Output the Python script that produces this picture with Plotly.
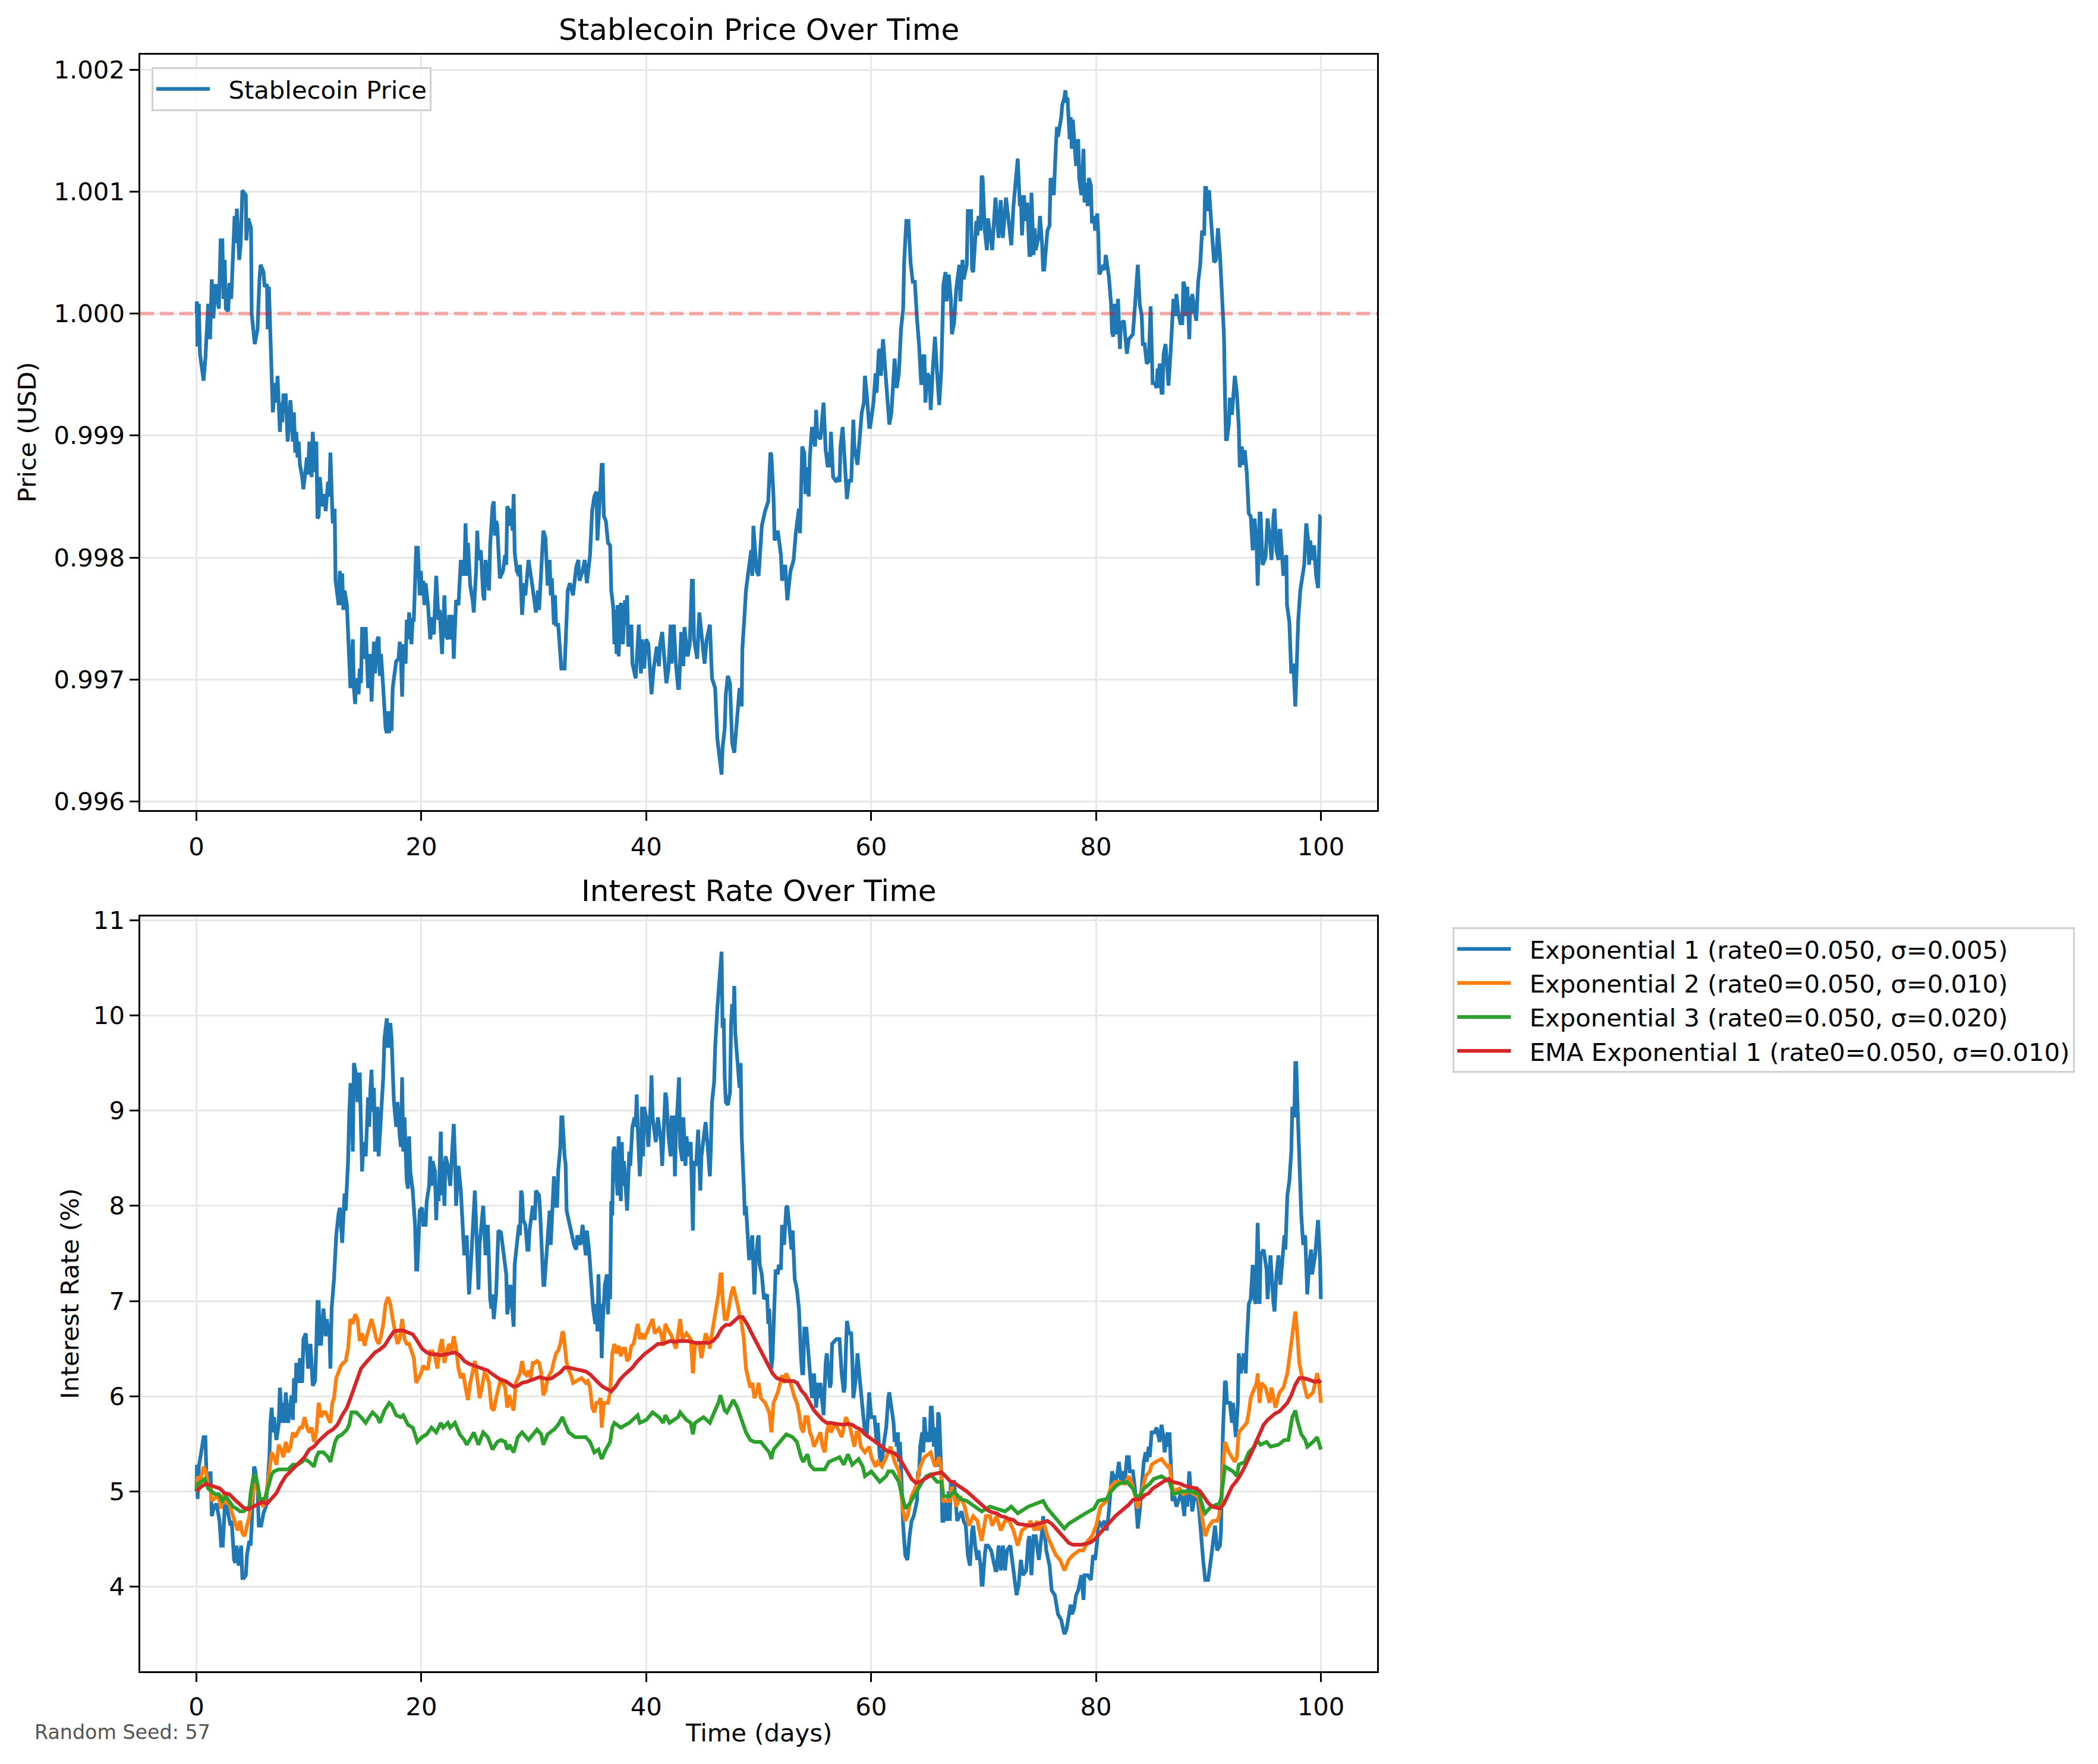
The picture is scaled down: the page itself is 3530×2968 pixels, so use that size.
import plotly.graph_objects as go

# ---------------- data ----------------
PRICE = [
(0.00,1.00000),(0.04,1.00010),(0.08,0.99973),(0.21,1.00008),(0.31,0.99967),(0.52,0.99951),(0.63,0.99945),(0.79,0.99963),
(1.04,1.00008),(1.21,0.99979),(1.36,1.00028),(1.50,0.99996),(1.71,1.00024),(1.99,1.00004),(2.15,1.00060),(2.30,1.00060),
(2.40,1.00012),(2.51,1.00044),(2.61,1.00004),(2.82,1.00002),(2.93,1.00025),(3.09,1.00012),(3.28,1.00056),(3.39,1.00080),
(3.51,1.00058),(3.59,1.00086),(3.80,1.00044),(3.93,1.00056),(4.08,1.00101),(4.39,1.00097),(4.43,1.00060),(4.60,1.00078),
(4.85,1.00070),(4.91,1.00000),(5.18,0.99975),(5.43,0.99987),(5.60,1.00028),(5.71,1.00040),(5.96,1.00034),(6.06,1.00022),
(6.27,1.00024),(6.33,0.99987),(6.44,1.00022),(6.65,0.99967),(6.79,0.99919),(7.00,0.99943),(7.11,0.99927),(7.21,0.99949),
(7.42,0.99903),(7.52,0.99927),(7.63,0.99911),(7.73,0.99933),(7.94,0.99933),(8.11,0.99895),(8.36,0.99929),(8.57,0.99895),
(8.67,0.99919),(8.78,0.99886),(8.88,0.99903),(8.99,0.99882),(9.09,0.99895),(9.20,0.99876),(9.40,0.99866),(9.51,0.99856),
(9.66,0.99866),(9.82,0.99882),(9.93,0.99868),(10.03,0.99895),(10.24,0.99866),(10.34,0.99903),(10.55,0.99870),(10.66,0.99895),
(10.76,0.99832),(10.87,0.99834),(10.97,0.99866),(11.18,0.99842),(11.39,0.99852),(11.49,0.99838),(11.70,0.99862),(11.81,0.99850),
(11.91,0.99886),(12.02,0.99838),(12.12,0.99828),(12.29,0.99840),(12.37,0.99781),(12.64,0.99761),(12.75,0.99789),(12.85,0.99761),
(12.96,0.99787),(13.06,0.99757),(13.17,0.99773),(13.38,0.99761),(13.48,0.99733),(13.69,0.99693),(13.79,0.99701),(13.90,0.99733),
(14.00,0.99693),(14.11,0.99680),(14.21,0.99701),(14.42,0.99688),(14.52,0.99709),(14.63,0.99697),(14.73,0.99743),(14.94,0.99717),
(15.05,0.99743),(15.15,0.99717),(15.26,0.99693),(15.47,0.99721),(15.57,0.99682),(15.78,0.99731),(15.88,0.99705),(16.09,0.99733),
(16.20,0.99735),(16.30,0.99703),(16.41,0.99721),(16.61,0.99693),(16.82,0.99660),(16.93,0.99656),(17.03,0.99674),(17.14,0.99656),
(17.24,0.99674),(17.35,0.99658),(17.45,0.99693),(17.76,0.99715),(17.97,0.99717),(18.08,0.99731),(18.18,0.99717),(18.29,0.99686),
(18.39,0.99729),(18.60,0.99713),(18.70,0.99749),(18.81,0.99733),(18.91,0.99755),(19.12,0.99729),(19.23,0.99749),(19.33,0.99749),
(19.44,0.99787),(19.54,0.99808),(19.69,0.99808),(19.85,0.99769),(19.96,0.99789),(20.06,0.99769),(20.17,0.99781),(20.27,0.99761),
(20.38,0.99779),(20.59,0.99761),(20.79,0.99733),(21.00,0.99751),(21.11,0.99737),(21.32,0.99785),(21.52,0.99749),(21.63,0.99757),
(21.84,0.99721),(22.05,0.99769),(22.15,0.99737),(22.36,0.99733),(22.47,0.99753),(22.67,0.99733),(22.78,0.99753),(22.88,0.99717),
(23.09,0.99765),(23.30,0.99761),(23.51,0.99798),(23.62,0.99785),(23.72,0.99798),(23.82,0.99785),(23.93,0.99828),(24.03,0.99785),
(24.14,0.99812),(24.35,0.99777),(24.56,0.99765),(24.66,0.99755),(24.87,0.99789),(24.97,0.99822),(25.08,0.99798),(25.29,0.99806),
(25.50,0.99769),(25.60,0.99765),(25.71,0.99798),(26.02,0.99773),(26.12,0.99810),(26.33,0.99842),(26.44,0.99846),(26.54,0.99818),
(26.65,0.99830),(26.75,0.99826),(26.98,0.99783),(27.26,0.99789),(27.45,0.99802),(27.55,0.99794),(27.64,0.99842),(27.83,0.99838),
(27.92,0.99826),(28.02,0.99840),(28.11,0.99822),(28.21,0.99852),(28.30,0.99804),(28.49,0.99789),(28.68,0.99785),(28.77,0.99794),
(28.96,0.99753),(29.15,0.99779),(29.25,0.99769),(29.53,0.99798),(29.81,0.99781),(30.00,0.99765),(30.19,0.99755),(30.38,0.99773),
(30.47,0.99757),(30.66,0.99789),(30.85,0.99822),(31.04,0.99816),(31.23,0.99777),(31.41,0.99798),(31.51,0.99769),(31.60,0.99783),
(31.79,0.99745),(31.89,0.99769),(31.98,0.99745),(32.17,0.99745),(32.45,0.99709),(32.74,0.99709),(32.92,0.99741),(33.02,0.99773),
(33.21,0.99779),(33.49,0.99769),(33.77,0.99792),(33.96,0.99798),(34.06,0.99781),(34.34,0.99789),(34.53,0.99798),(34.72,0.99779),
(35.00,0.99802),(35.19,0.99838),(35.38,0.99850),(35.57,0.99854),(35.66,0.99814),(35.85,0.99840),(36.04,0.99876),(36.13,0.99876),
(36.23,0.99834),(36.41,0.99830),(36.60,0.99812),(36.79,0.99810),(36.89,0.99773),(37.07,0.99759),(37.17,0.99729),(37.26,0.99757),
(37.36,0.99721),(37.45,0.99761),(37.55,0.99719),(37.74,0.99763),(37.92,0.99729),(38.11,0.99765),(38.21,0.99745),(38.30,0.99769),
(38.40,0.99727),(38.68,0.99745),(38.77,0.99713),(39.06,0.99701),(39.24,0.99733),(39.34,0.99745),(39.53,0.99705),(39.62,0.99733),
(39.81,0.99709),(40.00,0.99733),(40.19,0.99729),(40.47,0.99688),(40.66,0.99709),(40.94,0.99727),(41.13,0.99711),(41.23,0.99729),
(41.42,0.99739),(41.60,0.99713),(41.79,0.99697),(41.98,0.99709),(42.17,0.99745),(42.26,0.99713),(42.45,0.99745),(42.64,0.99713),
(42.83,0.99693),(42.92,0.99693),(43.02,0.99733),(43.11,0.99739),(43.30,0.99711),(43.40,0.99743),(43.68,0.99719),(43.87,0.99729),
(44.06,0.99781),(44.15,0.99781),(44.25,0.99733),(44.53,0.99717),(44.72,0.99755),(44.91,0.99737),(45.19,0.99713),(45.38,0.99733),
(45.66,0.99745),(45.85,0.99701),(46.13,0.99693),(46.32,0.99652),(46.51,0.99636),(46.70,0.99622),(46.79,0.99644),(46.98,0.99660),
(47.08,0.99688),(47.26,0.99703),(47.45,0.99697),(47.64,0.99648),(47.83,0.99640),(48.02,0.99660),(48.30,0.99693),(48.49,0.99678),
(48.55,0.99725),(48.77,0.99757),(48.87,0.99773),(49.06,0.99787),(49.34,0.99806),(49.43,0.99785),(49.53,0.99826),(49.81,0.99789),
(50.00,0.99785),(50.28,0.99826),(50.57,0.99838),(50.85,0.99846),(51.04,0.99886),(51.13,0.99884),(51.32,0.99850),(51.42,0.99814),
(51.70,0.99822),(51.98,0.99802),(52.08,0.99781),(52.36,0.99794),(52.55,0.99765),(52.83,0.99789),(53.11,0.99798),(53.30,0.99820),
(53.58,0.99840),(53.68,0.99820),(53.87,0.99891),(54.06,0.99886),(54.16,0.99852),(54.34,0.99874),(54.45,0.99850),(54.55,0.99882),
(54.74,0.99907),(55.02,0.99891),(55.11,0.99921),(55.21,0.99901),(55.49,0.99897),(55.77,0.99927),(55.96,0.99888),(56.15,0.99874),
(56.25,0.99886),(56.34,0.99874),(56.43,0.99903),(56.62,0.99866),(56.91,0.99862),(57.10,0.99866),(57.19,0.99862),(57.28,0.99891),
(57.47,0.99907),(57.66,0.99878),(57.85,0.99848),(58.04,0.99864),(58.23,0.99862),(58.42,0.99913),(58.51,0.99891),(58.79,0.99876),
(58.98,0.99895),(59.17,0.99919),(59.36,0.99927),(59.45,0.99949),(59.64,0.99931),(59.83,0.99907),(59.92,0.99907),(60.21,0.99927),
(60.40,0.99951),(60.49,0.99935),(60.68,0.99969),(60.77,0.99971),(60.87,0.99949),(61.06,0.99979),(61.25,0.99955),(61.43,0.99935),
(61.62,0.99909),(61.81,0.99919),(62.09,0.99963),(62.28,0.99939),(62.47,0.99951),(62.66,0.99987),(62.85,1.00004),(62.94,1.00042),
(63.13,1.00076),(63.32,1.00076),(63.51,1.00042),(63.70,1.00026),(63.89,1.00026),(64.08,0.99996),(64.26,0.99975),(64.45,0.99943),
(64.55,0.99943),(64.64,0.99965),(64.74,0.99965),(64.83,0.99927),(65.02,0.99951),(65.21,0.99947),(65.30,0.99921),(65.49,0.99955),
(65.68,0.99981),(65.87,0.99951),(66.06,0.99925),(66.25,0.99955),(66.43,1.00024),(66.62,1.00034),(66.72,1.00010),(66.91,1.00032),
(67.09,1.00012),(67.19,0.99983),(67.38,0.99992),(67.57,1.00020),(67.85,1.00040),(67.94,1.00010),(68.13,1.00044),(68.23,1.00028),
(68.51,1.00040),(68.60,1.00084),(68.89,1.00084),(68.98,1.00036),(69.08,1.00034),(69.36,1.00076),(69.45,1.00064),(69.55,1.00080),
(69.74,1.00068),(69.83,1.00113),(69.92,1.00111),(70.11,1.00068),(70.30,1.00052),(70.40,1.00078),(70.68,1.00056),(70.77,1.00052),
(71.06,1.00095),(71.25,1.00064),(71.34,1.00062),(71.53,1.00093),(71.72,1.00062),(72.00,1.00095),(72.19,1.00078),(72.47,1.00056),
(72.66,1.00088),(72.85,1.00109),(73.04,1.00127),(73.23,1.00088),(73.32,1.00097),(73.42,1.00064),(73.60,1.00097),(73.70,1.00076),
(73.89,1.00091),(74.08,1.00048),(74.17,1.00048),(74.26,1.00099),(74.45,1.00048),(74.55,1.00070),(74.64,1.00052),(74.92,1.00064),
(75.02,1.00080),(75.21,1.00056),(75.30,1.00036),(75.40,1.00036),(75.68,1.00068),(75.87,1.00072),(75.96,1.00111),(76.15,1.00105),
(76.25,1.00097),(76.43,1.00137),(76.53,1.00153),(76.62,1.00145),(76.91,1.00161),(77.00,1.00171),(77.19,1.00177),(77.28,1.00183),
(77.38,1.00173),(77.47,1.00177),(77.57,1.00153),(77.66,1.00143),(77.75,1.00161),(77.85,1.00135),(77.94,1.00159),(78.04,1.00143),
(78.23,1.00121),(78.42,1.00143),(78.51,1.00111),(78.70,1.00097),(78.89,1.00135),(78.98,1.00091),(79.17,1.00107),(79.26,1.00088),
(79.36,1.00111),(79.55,1.00105),(79.64,1.00074),(79.83,1.00080),(79.92,1.00068),(80.11,1.00082),(80.21,1.00064),(80.30,1.00032),
(80.58,1.00038),(80.77,1.00036),(80.87,1.00048),(81.15,1.00030),(81.34,1.00008),(81.43,0.99985),(81.53,0.99981),(81.62,1.00008),
(81.69,1.00002),(81.78,0.99983),(81.96,1.00012),(82.13,0.99971),(82.22,0.99992),(82.48,0.99994),(82.75,0.99967),(82.92,0.99979),
(83.10,0.99981),(83.28,0.99983),(83.45,1.00004),(83.72,1.00040),(83.89,1.00008),(84.07,0.99998),(84.16,0.99975),(84.33,0.99975),
(84.51,0.99959),(84.69,0.99961),(84.86,1.00006),(85.04,0.99943),(85.22,0.99943),(85.39,0.99939),(85.48,0.99955),(85.57,0.99939),
(85.66,0.99959),(85.83,0.99935),(85.92,0.99935),(86.01,0.99967),(86.19,0.99975),(86.36,0.99955),(86.45,0.99941),(86.63,0.99967),
(86.80,1.00000),(86.89,1.00012),(87.07,0.99998),(87.15,1.00016),(87.33,1.00000),(87.51,0.99992),(87.68,0.99992),(87.77,1.00026),
(87.86,1.00024),(87.95,0.99998),(88.12,1.00022),(88.30,0.99979),(88.39,1.00014),(88.48,1.00000),(88.56,1.00016),(88.83,1.00002),
(88.92,0.99994),(89.09,1.00026),(89.27,1.00040),(89.44,1.00068),(89.62,1.00064),(89.71,1.00103),(89.80,1.00103),(89.97,1.00084),
(90.06,1.00101),(90.24,1.00076),(90.41,1.00056),(90.50,1.00042),(90.68,1.00044),(90.85,1.00070),(91.03,1.00048),(91.12,1.00032),
(91.21,1.00004),(91.38,0.99983),(91.47,0.99935),(91.56,0.99897),(91.65,0.99897),(91.82,0.99909),(91.91,0.99931),(92.09,0.99917),
(92.35,0.99949),(92.53,0.99935),(92.70,0.99907),(92.79,0.99874),(92.97,0.99891),(93.14,0.99876),(93.23,0.99888),(93.41,0.99870),
(93.59,0.99836),(93.76,0.99834),(93.94,0.99806),(94.11,0.99832),(94.29,0.99808),(94.38,0.99777),(94.47,0.99802),(94.55,0.99836),
(94.64,0.99836),(94.82,0.99794),(95.08,0.99800),(95.26,0.99832),(95.44,0.99818),(95.61,0.99798),(95.79,0.99834),(95.88,0.99840),
(96.05,0.99806),(96.23,0.99798),(96.32,0.99822),(96.40,0.99822),(96.67,0.99785),(96.93,0.99802),(96.99,0.99761),(97.20,0.99747),
(97.37,0.99705),(97.55,0.99713),(97.73,0.99678),(97.81,0.99709),(97.99,0.99749),(98.17,0.99773),(98.34,0.99783),(98.52,0.99794),
(98.70,0.99828),(98.87,0.99814),(98.96,0.99794),(99.05,0.99814),(99.22,0.99798),(99.40,0.99810),(99.58,0.99785),(99.75,0.99775),
(99.93,0.99834),(100.00,0.99834),
]

RATE_EXP1 = [
(0.00,5.00),(0.04,5.28),(0.10,4.92),(0.21,5.26),(0.42,5.41),(0.63,5.57),(0.79,5.57),(0.88,5.21),(1.15,5.03),(1.25,5.21),
(1.36,4.74),(1.57,4.84),(1.78,4.87),(2.05,4.69),(2.19,4.43),(2.34,4.43),(2.55,4.92),(2.82,4.77),(3.03,4.64),(3.13,4.69),
(3.34,4.28),(3.45,4.25),(3.55,4.43),(3.76,4.22),(3.97,4.43),(4.08,4.09),(4.22,4.09),(4.39,4.12),(4.49,4.33),(4.70,4.48),
(4.81,4.43),(4.91,4.64),(5.02,5.00),(5.12,5.26),(5.22,5.23),(5.43,5.03),(5.54,4.64),(5.75,4.64),(5.96,4.77),(6.17,4.84),
(6.37,5.16),(6.48,5.36),(6.58,5.72),(6.69,5.88),(6.79,5.62),(6.90,5.78),(7.11,5.54),(7.31,5.70),(7.42,6.09),(7.63,5.72),
(7.73,5.93),(7.84,5.72),(7.94,6.04),(8.15,5.72),(8.46,6.01),(8.57,5.75),(8.67,6.19),(8.78,5.93),(8.88,6.35),(9.09,6.14),
(9.20,6.40),(9.40,6.14),(9.51,6.60),(9.72,6.66),(9.93,6.29),(10.14,6.55),(10.34,6.11),(10.55,6.16),(10.66,6.55),(10.76,6.99),
(10.87,6.99),(10.97,6.55),(11.08,6.55),(11.29,6.92),(11.49,6.63),(11.60,6.81),(11.70,6.68),(11.81,6.76),(11.91,6.29),(12.02,6.92),
(12.23,7.23),(12.43,7.69),(12.64,7.92),(12.75,7.98),(12.96,7.61),(13.17,8.13),(13.27,7.95),(13.48,8.47),(13.58,8.93),(13.69,9.27),
(13.79,9.27),(13.90,8.57),(14.00,9.50),(14.21,9.37),(14.32,9.09),(14.52,9.40),(14.63,8.83),(14.73,8.36),(14.84,8.67),(15.05,8.52),
(15.26,9.14),(15.36,8.83),(15.47,9.22),(15.57,9.43),(15.67,8.99),(15.78,9.24),(15.88,8.57),(16.09,9.04),(16.20,8.52),(16.41,8.93),
(16.61,9.35),(16.72,9.76),(16.93,9.97),(17.03,9.66),(17.24,9.92),(17.35,9.76),(17.45,9.27),(17.55,9.11),(17.76,8.83),(17.87,9.09),
(18.08,8.73),(18.18,8.62),(18.29,9.35),(18.39,8.57),(18.50,8.93),(18.70,8.26),(18.81,8.18),(18.91,8.73),(19.02,8.36),(19.23,8.16),
(19.44,7.80),(19.54,7.33),(19.64,7.33),(19.85,7.95),(20.06,7.98),(20.17,7.80),(20.38,7.80),(20.48,8.05),(20.69,8.21),(20.79,8.52),
(20.90,8.21),(21.00,8.47),(21.21,8.36),(21.32,7.85),(21.42,8.21),(21.53,8.05),(21.73,8.78),(21.84,8.11),(21.94,8.47),(22.05,8.00),
(22.15,8.52),(22.36,8.42),(22.57,8.21),(22.78,8.73),(22.88,8.86),(22.99,8.52),(23.09,8.00),(23.30,8.42),(23.51,8.16),(23.72,7.69),
(23.82,7.48),(24.03,7.69),(24.24,7.07),(24.45,7.48),(24.66,8.00),(24.76,8.16),(24.97,7.48),(25.08,7.12),(25.18,7.59),(25.39,7.95),
(25.50,8.00),(25.71,7.48),(25.91,7.80),(26.12,7.02),(26.23,6.92),(26.33,7.07),(26.44,6.81),(26.65,7.07),(26.85,7.74),(27.08,7.72),
(27.26,7.54),(27.45,7.38),(27.55,7.28),(27.64,6.86),(27.83,7.02),(27.92,7.17),(28.11,6.92),(28.21,6.73),(28.30,7.38),(28.49,7.59),
(28.68,7.80),(28.77,7.69),(28.87,8.16),(28.96,8.11),(29.06,7.85),(29.25,7.80),(29.43,7.54),(29.53,7.54),(29.62,7.74),(29.91,8.00),
(30.09,7.85),(30.19,8.16),(30.47,8.11),(30.57,7.92),(30.75,7.54),(30.85,7.17),(30.94,7.17),(31.13,7.54),(31.32,7.82),(31.41,7.95),
(31.51,7.59),(31.70,8.00),(31.79,8.31),(31.89,8.00),(32.07,8.00),(32.17,8.36),(32.36,8.62),(32.45,8.93),(32.55,8.93),(32.74,8.52),
(32.83,8.44),(32.92,7.95),(33.21,7.80),(33.58,7.59),(33.77,7.54),(33.87,7.69),(34.15,7.59),(34.34,7.80),(34.62,7.48),(34.72,7.74),
(34.91,7.54),(35.09,7.17),(35.19,7.02),(35.28,6.92),(35.47,6.76),(35.57,6.97),(35.66,6.68),(35.75,7.28),(35.85,6.81),(35.94,6.97),
(36.04,6.40),(36.13,6.76),(36.32,7.17),(36.51,7.28),(36.60,6.86),(36.70,7.28),(36.79,7.02),(36.89,8.05),(36.98,7.90),(37.07,8.57),
(37.17,8.62),(37.36,8.21),(37.45,8.11),(37.55,8.73),(37.74,8.05),(37.83,8.67),(37.92,8.21),(38.02,8.47),(38.30,7.95),(38.49,8.57),
(38.58,8.42),(38.77,8.83),(38.96,8.93),(39.06,8.83),(39.15,9.17),(39.24,8.83),(39.43,8.31),(39.53,8.52),(39.62,9.04),(39.72,8.52),
(39.81,9.04),(40.00,8.93),(40.19,8.62),(40.38,9.04),(40.47,9.37),(40.57,8.93),(40.85,8.67),(41.04,8.93),(41.32,8.67),(41.42,8.42),
(41.60,8.83),(41.70,9.19),(41.79,9.14),(41.98,8.73),(42.17,8.52),(42.26,8.93),(42.45,8.93),(42.55,8.31),(42.64,8.73),(42.83,9.14),
(42.92,9.35),(43.02,8.62),(43.21,8.47),(43.30,8.93),(43.49,8.42),(43.58,8.73),(43.77,8.52),(43.96,8.67),(44.06,8.21),(44.15,7.74),
(44.25,8.47),(44.43,8.42),(44.62,8.80),(44.81,8.16),(44.91,8.52),(45.19,8.83),(45.28,8.88),(45.47,8.62),(45.66,8.31),(45.75,8.62),
(45.85,9.09),(46.04,9.30),(46.13,9.66),(46.32,10.07),(46.51,10.33),(46.60,10.54),(46.70,10.67),(46.79,9.87),(46.89,9.97),(46.98,9.35),
(47.08,9.09),(47.26,9.06),(47.45,9.19),(47.55,9.92),(47.64,10.12),(47.74,9.92),(47.83,10.31),(47.92,9.81),(48.11,9.55),(48.30,9.24),
(48.40,9.50),(48.49,8.73),(48.68,8.21),(48.77,7.90),(48.87,8.00),(49.06,7.64),(49.15,7.43),(49.34,7.59),(49.43,7.69),(49.62,7.07),
(49.72,7.38),(49.91,7.64),(50.00,7.69),(50.09,7.38),(50.28,7.28),(50.47,7.02),(50.75,7.07),(50.85,6.76),(50.94,6.92),(51.04,6.60),
(51.13,6.29),(51.23,6.40),(51.32,6.76),(51.51,7.33),(51.70,7.28),(51.79,7.38),(51.98,7.33),(52.08,7.80),(52.26,7.59),(52.45,7.98),
(52.55,8.00),(52.74,7.74),(52.92,7.54),(53.02,7.74),(53.21,7.23),(53.40,7.12),(53.58,6.92),(53.77,6.40),(53.87,6.24),(53.96,6.24),
(54.06,6.71),(54.25,6.71),(54.36,6.55),(54.55,6.29),(54.74,5.98),(54.92,6.24),(55.11,5.88),(55.30,6.14),(55.40,5.98),(55.49,6.14),
(55.68,5.83),(55.77,5.80),(55.96,6.35),(56.06,6.45),(56.34,6.09),(56.43,6.14),(56.53,6.55),(56.91,6.60),(57.19,6.60),(57.38,6.24),
(57.57,6.04),(57.66,6.09),(57.76,6.50),(57.85,6.79),(58.04,6.66),(58.23,6.66),(58.32,6.40),(58.42,5.98),(58.60,6.14),(58.79,6.45),
(58.98,6.19),(59.17,5.93),(59.36,5.78),(59.45,5.62),(59.64,5.62),(59.83,6.04),(60.02,5.78),(60.30,5.78),(60.49,5.52),(60.58,5.72),
(60.77,5.36),(60.96,5.31),(61.15,5.52),(61.34,5.67),(61.53,5.98),(61.62,6.04),(61.81,5.88),(62.00,5.72),(62.09,5.52),(62.19,5.62),
(62.28,5.47),(62.38,5.62),(62.47,5.31),(62.57,5.52),(62.66,5.26),(62.85,4.64),(63.04,4.33),(63.23,4.28),(63.42,4.53),(63.60,4.69),
(63.79,4.74),(63.98,4.84),(64.08,4.90),(64.17,5.21),(64.26,5.16),(64.36,5.47),(64.55,5.62),(64.64,5.41),(64.74,5.78),(64.92,5.52),
(65.02,5.62),(65.21,5.52),(65.30,5.88),(65.40,5.88),(65.58,5.47),(65.68,5.67),(65.87,5.26),(65.96,5.83),(66.06,5.78),(66.25,5.16),
(66.34,4.69),(66.43,4.69),(66.53,4.90),(66.72,4.69),(66.91,5.00),(67.00,4.69),(67.09,5.10),(67.38,5.10),(67.66,4.69),(67.85,4.74),
(68.04,4.79),(68.23,4.69),(68.42,4.64),(68.60,4.33),(68.79,4.22),(68.98,4.59),(69.08,4.64),(69.26,4.43),(69.45,4.28),(69.55,4.38),
(69.74,4.22),(69.83,4.02),(69.92,4.02),(70.11,4.33),(70.21,4.43),(70.40,4.43),(70.68,4.38),(71.06,4.17),(71.15,4.17),(71.34,4.43),
(71.53,4.17),(71.72,4.43),(71.91,4.17),(72.09,4.38),(72.38,4.43),(72.66,4.17),(72.85,3.96),(72.94,3.91),(73.13,4.02),(73.32,4.28),
(73.51,4.12),(73.79,4.17),(73.98,4.48),(74.08,4.53),(74.26,4.12),(74.45,4.53),(74.64,4.53),(74.92,4.28),(75.21,4.59),(75.30,4.74),
(75.58,4.38),(75.87,4.22),(76.06,3.96),(76.34,3.91),(76.62,3.71),(76.91,3.65),(77.09,3.55),(77.19,3.50),(77.38,3.55),(77.57,3.71),
(77.75,3.81),(77.85,3.71),(78.04,3.76),(78.23,3.91),(78.42,3.96),(78.70,4.12),(78.89,3.86),(78.98,4.12),(79.26,4.12),(79.55,4.07),
(79.74,4.33),(79.92,4.28),(80.11,4.48),(80.21,4.69),(80.49,4.64),(80.77,4.69),(80.96,4.59),(81.15,4.79),(81.34,5.16),(81.43,5.21),
(81.72,5.10),(81.87,5.16),(82.04,5.31),(82.22,5.10),(82.48,5.21),(82.57,5.10),(82.75,5.36),(82.92,5.36),(83.01,5.21),(83.28,5.21),
(83.45,5.05),(83.72,4.61),(83.89,4.79),(84.07,5.10),(84.25,5.31),(84.42,5.41),(84.51,5.31),(84.69,5.47),(84.78,5.36),(84.95,5.62),
(85.22,5.62),(85.39,5.67),(85.66,5.52),(85.83,5.70),(86.01,5.57),(86.10,5.41),(86.36,5.62),(86.45,5.47),(86.54,5.62),(86.63,5.36),
(86.80,4.90),(86.98,4.95),(87.15,4.84),(87.33,4.90),(87.59,5.00),(87.86,4.74),(87.95,5.00),(88.12,4.84),(88.30,5.21),(88.56,4.79),
(88.83,5.00),(88.92,5.05),(89.18,4.79),(89.36,4.48),(89.53,4.28),(89.71,4.07),(89.97,4.07),(90.15,4.22),(90.33,4.38),(90.59,4.64),
(90.77,4.38),(91.03,4.43),(91.12,4.59),(91.21,5.16),(91.29,5.62),(91.47,6.16),(91.56,6.14),(91.65,5.93),(91.91,5.93),(92.09,5.72),
(92.18,5.93),(92.44,5.57),(92.62,5.93),(92.70,6.45),(92.88,6.24),(93.14,6.45),(93.32,6.24),(93.41,6.55),(93.59,6.97),(93.76,7.02),
(93.94,7.38),(94.11,7.02),(94.20,6.97),(94.38,7.82),(94.55,6.97),(94.64,7.48),(94.91,7.54),(95.17,7.33),(95.26,7.02),(95.44,7.33),
(95.52,7.48),(95.79,6.97),(95.88,6.89),(96.05,7.28),(96.23,7.48),(96.40,7.17),(96.58,7.48),(96.76,7.69),(96.85,7.54),(97.02,8.11),
(97.20,8.26),(97.37,8.57),(97.46,9.04),(97.64,8.93),(97.73,9.50),(97.81,9.50),(97.90,9.14),(98.08,8.42),(98.26,7.90),(98.43,7.59),
(98.61,7.69),(98.79,7.07),(98.96,7.38),(99.14,7.54),(99.22,7.28),(99.49,7.48),(99.67,7.85),(99.75,7.85),(99.93,7.43),(100.00,7.02),
]

RATE_EXP2 = [
(0.00,5.00),(0.10,5.16),(0.21,5.05),(0.42,5.16),(0.63,5.26),(0.84,5.21),(1.04,5.05),(1.25,5.03),(1.36,4.90),(1.57,4.92),
(1.78,4.95),(1.99,4.92),(2.19,4.82),(2.40,4.97),(2.61,4.87),(2.82,4.90),(3.03,4.82),(3.24,4.72),(3.45,4.64),(3.66,4.59),
(3.87,4.69),(4.08,4.56),(4.28,4.53),(4.49,4.64),(4.70,4.74),(4.91,4.90),(5.12,5.08),(5.33,5.05),(5.54,4.95),(5.75,4.87),
(5.96,4.84),(6.17,4.95),(6.37,5.10),(6.58,5.36),(6.69,5.41),(6.90,5.36),(7.11,5.28),(7.31,5.49),(7.52,5.44),(7.73,5.36),
(7.94,5.52),(8.15,5.41),(8.36,5.47),(8.57,5.62),(8.78,5.57),(8.99,5.62),(9.20,5.67),(9.40,5.67),(9.61,5.78),(9.82,5.67),
(10.03,5.62),(10.24,5.67),(10.45,5.52),(10.66,5.62),(10.87,5.93),(11.08,5.78),(11.29,5.83),(11.49,5.83),(11.70,5.78),(11.91,5.72),
(12.08,5.93),(12.23,5.98),(12.43,6.19),(12.64,6.27),(12.85,6.32),(13.06,6.35),(13.27,6.37),(13.48,6.50),(13.69,6.81),(13.90,6.76),
(14.11,6.86),(14.32,6.81),(14.52,6.58),(14.73,6.66),(14.94,6.53),(15.15,6.63),(15.36,6.71),(15.57,6.81),(15.78,6.71),(15.99,6.60),
(16.20,6.55),(16.41,6.63),(16.61,6.76),(16.82,6.97),(17.03,7.04),(17.24,6.97),(17.45,6.81),(17.66,6.66),(17.87,6.55),(18.08,6.60),
(18.29,6.81),(18.50,6.60),(18.70,6.55),(18.91,6.55),(19.12,6.47),(19.33,6.40),(19.54,6.14),(19.75,6.19),(19.96,6.24),(20.17,6.32),
(20.38,6.29),(20.59,6.29),(20.79,6.47),(21.00,6.47),(21.21,6.42),(21.42,6.29),(21.63,6.50),(21.84,6.60),(22.05,6.35),(22.26,6.47),
(22.47,6.55),(22.67,6.47),(22.88,6.63),(23.09,6.50),(23.30,6.29),(23.51,6.19),(23.72,6.24),(23.93,6.09),(24.14,5.96),(24.35,6.14),
(24.56,6.24),(24.76,6.37),(24.97,6.19),(25.18,5.98),(25.39,6.09),(25.60,6.24),(25.81,6.22),(26.02,6.14),(26.23,5.88),(26.44,5.85),
(26.65,5.98),(26.85,6.09),(27.08,6.19),(27.26,6.14),(27.45,6.09),(27.64,5.88),(27.83,6.01),(28.02,5.91),(28.21,5.85),(28.40,6.14),
(28.58,6.19),(28.77,6.24),(28.96,6.37),(29.15,6.24),(29.34,6.22),(29.53,6.27),(29.72,6.19),(29.91,6.35),(30.09,6.35),(30.28,6.37),
(30.47,6.35),(30.66,6.24),(30.85,6.01),(31.04,6.06),(31.23,6.19),(31.41,6.24),(31.60,6.27),(31.79,6.37),(31.98,6.45),(32.17,6.48),
(32.36,6.55),(32.55,6.68),(32.64,6.66),(32.83,6.45),(32.92,6.35),(33.11,6.27),(33.30,6.22),(33.49,6.14),(33.87,6.16),(34.25,6.19),
(34.62,6.14),(34.81,6.16),(35.00,6.09),(35.19,5.88),(35.38,5.83),(35.57,5.93),(35.75,5.93),(35.94,5.98),(36.04,5.67),(36.23,5.93),
(36.60,5.93),(36.79,6.04),(36.98,6.45),(37.17,6.55),(37.36,6.45),(37.55,6.53),(37.74,6.42),(37.92,6.50),(38.11,6.50),(38.30,6.37),
(38.49,6.40),(38.68,6.53),(38.87,6.55),(39.06,6.66),(39.24,6.76),(39.43,6.60),(39.62,6.66),(39.81,6.60),(40.00,6.66),(40.38,6.76),
(40.57,6.81),(40.75,6.66),(41.13,6.71),(41.32,6.66),(41.51,6.53),(41.70,6.76),(41.89,6.71),(42.26,6.63),(42.64,6.50),(42.83,6.66),
(43.02,6.81),(43.21,6.60),(43.58,6.66),(43.96,6.60),(44.15,6.24),(44.34,6.55),(44.72,6.55),(44.91,6.40),(45.09,6.55),(45.28,6.66),
(45.47,6.60),(45.66,6.50),(45.85,6.66),(46.04,6.81),(46.23,6.92),(46.42,7.07),(46.60,7.28),(46.70,7.28),(46.79,7.02),(46.98,6.81),
(47.17,6.81),(47.36,6.97),(47.55,7.07),(47.74,7.15),(47.92,7.07),(48.11,6.97),(48.30,6.86),(48.49,6.76),(48.68,6.60),(48.87,6.29),
(49.06,6.19),(49.25,6.09),(49.43,6.14),(49.62,5.98),(49.81,6.04),(50.00,6.14),(50.19,5.98),(50.57,5.93),(50.94,5.83),(51.13,5.62),
(51.32,5.93),(51.70,6.04),(52.08,6.22),(52.26,6.14),(52.45,6.24),(52.83,6.14),(53.21,5.98),(53.40,5.93),(53.58,5.83),(53.77,5.67),
(53.96,5.62),(54.15,5.78),(54.36,5.78),(54.55,5.62),(54.74,5.57),(54.92,5.47),(55.11,5.52),(55.49,5.62),(55.68,5.47),(55.87,5.41),
(56.06,5.62),(56.25,5.72),(56.43,5.62),(56.81,5.72),(57.19,5.62),(57.38,5.57),(57.76,5.78),(58.13,5.67),(58.51,5.47),(58.70,5.62),
(58.89,5.62),(59.08,5.47),(59.45,5.41),(59.83,5.47),(60.02,5.36),(60.40,5.26),(60.58,5.31),(60.96,5.26),(61.34,5.36),(61.72,5.47),
(62.09,5.31),(62.47,5.21),(62.66,5.00),(62.85,4.79),(63.04,4.69),(63.23,4.74),(63.60,4.95),(63.98,5.05),(64.36,5.26),(64.74,5.36),
(65.30,5.41),(65.68,5.26),(66.06,5.36),(66.25,5.21),(66.43,4.90),(67.00,4.90),(67.19,5.05),(67.57,4.84),(67.94,4.95),(68.32,4.84),
(68.70,4.64),(69.08,4.74),(69.45,4.69),(69.83,4.48),(70.21,4.74),(70.58,4.74),(70.77,4.64),(71.15,4.74),(71.53,4.59),(71.91,4.69),
(72.28,4.69),(72.66,4.59),(73.04,4.43),(73.42,4.59),(73.98,4.64),(74.17,4.69),(74.55,4.59),(74.74,4.69),(74.92,4.59),(75.30,4.69),
(75.68,4.53),(76.06,4.43),(76.43,4.33),(76.81,4.28),(77.19,4.17),(77.57,4.28),(77.94,4.33),(78.51,4.38),(78.89,4.38),(79.26,4.48),
(79.64,4.53),(80.02,4.64),(80.40,4.84),(80.96,4.90),(81.34,5.05),(81.72,5.10),(82.04,5.10),(82.57,5.08),(82.92,5.16),(83.28,5.05),
(83.54,4.90),(83.72,4.82),(84.07,5.00),(84.42,5.16),(84.78,5.21),(84.95,5.28),(85.30,5.31),(85.83,5.34),(86.36,5.26),(86.54,5.28),
(86.71,5.10),(86.89,5.00),(87.42,5.03),(87.77,4.97),(88.30,5.00),(89.01,4.95),(89.18,4.92),(89.36,4.79),(89.53,4.69),(89.71,4.53),
(90.06,4.64),(90.41,4.69),(90.77,4.69),(90.94,4.74),(91.12,4.90),(91.29,5.26),(91.47,5.52),(91.82,5.41),(92.35,5.31),(92.53,5.36),
(92.70,5.62),(93.05,5.67),(93.41,5.72),(93.59,5.83),(93.76,5.98),(93.94,6.04),(94.29,6.14),(94.38,6.24),(94.55,5.93),(94.73,6.14),
(95.08,6.09),(95.44,5.93),(95.61,6.09),(95.96,5.88),(96.32,6.04),(96.67,6.09),(97.02,6.24),(97.20,6.40),(97.37,6.55),(97.55,6.71),
(97.73,6.89),(97.90,6.66),(98.08,6.35),(98.26,6.24),(98.61,6.09),(98.79,5.98),(99.31,6.04),(99.49,6.14),(99.67,6.24),(99.84,6.14),
(100.00,5.93),
]

RATE_EXP3 = [
(0.00,5.00),(0.10,5.08),(0.42,5.10),(0.73,5.13),(1.04,5.03),(1.36,5.00),(1.67,4.97),(1.99,4.97),(2.30,4.90),(2.61,4.95),
(2.93,4.90),(3.24,4.84),(3.55,4.82),(3.87,4.79),(4.18,4.79),(4.49,4.82),(4.70,4.84),(4.81,4.97),(5.02,5.13),(5.22,5.18),
(5.43,5.08),(5.64,4.92),(6.06,4.92),(6.27,5.00),(6.48,5.10),(6.69,5.18),(6.90,5.21),(7.31,5.23),(7.73,5.23),(8.15,5.23),
(8.57,5.28),(8.99,5.28),(9.40,5.31),(9.61,5.34),(10.03,5.31),(10.45,5.26),(10.66,5.36),(10.87,5.41),(11.29,5.41),(11.70,5.36),
(11.91,5.31),(12.12,5.41),(12.33,5.52),(12.54,5.57),(12.96,5.60),(13.38,5.65),(13.58,5.70),(13.79,5.83),(14.21,5.83),(14.63,5.78),
(15.05,5.72),(15.47,5.80),(15.67,5.83),(16.09,5.78),(16.30,5.72),(16.72,5.85),(17.14,5.93),(17.35,5.91),(17.76,5.80),(18.18,5.78),
(18.39,5.80),(18.81,5.70),(19.23,5.67),(19.44,5.60),(19.64,5.52),(20.06,5.57),(20.48,5.60),(20.90,5.67),(21.32,5.62),(21.73,5.72),
(21.94,5.67),(22.36,5.72),(22.57,5.67),(22.99,5.72),(23.41,5.60),(23.82,5.54),(24.03,5.49),(24.45,5.57),(24.66,5.62),(25.08,5.49),
(25.50,5.62),(25.91,5.57),(26.33,5.44),(26.75,5.52),(27.08,5.54),(27.45,5.52),(27.64,5.44),(27.83,5.49),(28.21,5.41),(28.58,5.57),
(28.96,5.62),(29.53,5.54),(30.28,5.65),(30.66,5.60),(30.85,5.49),(31.23,5.60),(31.79,5.65),(32.17,5.70),(32.55,5.78),(32.74,5.72),
(33.11,5.62),(33.68,5.57),(34.62,5.57),(35.00,5.52),(35.38,5.41),(35.75,5.44),(36.04,5.34),(36.41,5.44),(36.79,5.52),(36.98,5.67),
(37.17,5.72),(37.74,5.67),(38.49,5.72),(39.24,5.80),(39.43,5.72),(40.00,5.75),(40.57,5.83),(41.13,5.78),(41.51,5.72),(41.70,5.80),
(42.07,5.72),(42.83,5.78),(43.02,5.83),(43.58,5.75),(43.96,5.72),(44.15,5.60),(44.34,5.72),(45.09,5.78),(45.66,5.72),(46.04,5.83),
(46.42,5.93),(46.60,6.01),(46.98,5.85),(47.17,5.83),(47.55,5.93),(47.74,5.96),(48.11,5.88),(48.49,5.75),(48.87,5.62),(49.25,5.54),
(49.62,5.52),(50.19,5.52),(50.57,5.47),(50.94,5.41),(51.13,5.34),(51.32,5.44),(51.89,5.52),(52.45,5.60),(53.02,5.57),(53.40,5.52),
(53.77,5.36),(53.96,5.31),(54.34,5.39),(54.55,5.28),(54.92,5.23),(55.87,5.23),(56.25,5.31),(57.19,5.36),(57.57,5.28),(57.94,5.39),
(58.32,5.28),(58.89,5.34),(59.26,5.26),(59.45,5.16),(60.02,5.21),(60.77,5.10),(61.34,5.16),(61.53,5.21),(61.91,5.21),(62.47,5.10),
(62.66,5.00),(62.85,4.90),(63.04,4.82),(63.42,4.87),(63.79,4.95),(64.17,5.03),(64.55,5.10),(64.92,5.16),(65.30,5.18),(65.87,5.10),
(66.25,5.10),(66.43,4.95),(67.00,4.95),(67.38,5.00),(67.94,4.92),(68.51,4.90),(69.26,4.84),(69.83,4.79),(70.58,4.84),(71.91,4.79),
(72.47,4.84),(73.04,4.77),(73.98,4.84),(74.55,4.87),(75.30,4.90),(75.68,4.82),(76.25,4.74),(76.81,4.66),(77.19,4.61),(77.57,4.66),
(78.32,4.72),(79.08,4.77),(79.83,4.82),(80.21,4.90),(80.96,4.92),(81.34,5.00),(81.72,5.05),(82.04,5.08),(82.75,5.10),(83.28,5.03),
(83.72,4.92),(84.25,5.03),(84.78,5.08),(85.13,5.13),(85.83,5.16),(86.54,5.10),(86.89,4.97),(87.59,5.00),(88.48,5.00),(89.18,4.97),
(89.53,4.82),(89.71,4.77),(90.24,4.84),(90.94,4.87),(91.12,4.92),(91.29,5.10),(91.47,5.26),(92.18,5.21),(92.53,5.16),(92.70,5.28),
(93.23,5.31),(93.59,5.41),(94.11,5.47),(94.29,5.54),(94.64,5.49),(95.17,5.52),(95.52,5.47),(96.23,5.49),(96.76,5.54),(97.11,5.54),
(97.29,5.67),(97.46,5.78),(97.73,5.85),(97.90,5.75),(98.26,5.60),(98.61,5.54),(98.79,5.47),(99.31,5.52),(99.67,5.57),(100.00,5.44),
]

RATE_EMA = [
(0.00,5.00),(0.42,5.05),(0.84,5.08),(1.46,5.05),(2.09,5.03),(2.51,4.98),(2.93,4.97),(3.34,4.92),(3.76,4.87),(4.18,4.83),
(4.60,4.81),(5.02,4.84),(5.43,4.87),(5.85,4.89),(6.27,4.87),(6.69,4.92),(7.10,4.98),(7.52,5.08),(7.94,5.16),(8.36,5.21),
(8.78,5.26),(9.20,5.31),(9.61,5.36),(10.03,5.44),(10.45,5.47),(10.87,5.53),(11.29,5.58),(11.70,5.62),(12.12,5.65),(12.54,5.70),
(12.96,5.80),(13.38,5.88),(13.79,6.01),(14.21,6.16),(14.63,6.29),(15.05,6.35),(15.46,6.40),(15.88,6.46),(16.30,6.49),(16.72,6.53),
(17.14,6.61),(17.55,6.68),(17.97,6.69),(18.39,6.69),(18.81,6.67),(19.23,6.65),(19.64,6.58),(20.06,6.50),(20.48,6.46),(20.90,6.44),
(21.32,6.44),(21.73,6.43),(22.15,6.44),(22.57,6.45),(22.99,6.46),(23.41,6.43),(23.82,6.37),(24.24,6.34),(24.66,6.32),(25.08,6.30),
(25.50,6.29),(25.91,6.27),(26.33,6.23),(26.75,6.19),(27.08,6.17),(27.45,6.16),(27.83,6.13),(28.21,6.10),(28.58,6.11),(28.96,6.14),
(29.34,6.15),(29.72,6.17),(30.09,6.18),(30.47,6.20),(30.85,6.19),(31.23,6.18),(31.60,6.19),(31.98,6.22),(32.36,6.25),(32.74,6.30),
(33.11,6.30),(33.49,6.29),(33.87,6.28),(34.25,6.27),(34.62,6.26),(35.00,6.23),(35.38,6.18),(35.75,6.14),(36.13,6.10),(36.51,6.07),
(36.89,6.05),(37.26,6.10),(37.64,6.17),(38.02,6.22),(38.40,6.26),(38.77,6.30),(39.15,6.36),(39.53,6.41),(39.91,6.45),(40.28,6.48),
(40.66,6.52),(41.04,6.55),(41.42,6.55),(41.79,6.56),(42.17,6.58),(42.55,6.57),(42.92,6.58),(43.30,6.58),(43.68,6.58),(44.06,6.57),
(44.43,6.56),(44.81,6.56),(45.19,6.56),(45.57,6.56),(45.94,6.58),(46.32,6.63),(46.70,6.71),(47.08,6.75),(47.45,6.75),(47.83,6.79),
(48.21,6.83),(48.58,6.83),(48.96,6.76),(49.34,6.67),(49.72,6.58),(50.09,6.50),(50.47,6.42),(50.85,6.33),(51.23,6.24),(51.60,6.19),
(51.98,6.17),(52.36,6.16),(52.74,6.16),(53.11,6.16),(53.42,6.14),(53.79,6.06),(54.17,6.01),(54.55,5.93),(54.92,5.85),(55.30,5.80),
(55.68,5.75),(56.06,5.72),(56.43,5.72),(56.81,5.71),(57.19,5.70),(57.57,5.70),(57.94,5.71),(58.32,5.70),(58.70,5.67),(59.08,5.65),
(59.45,5.60),(59.83,5.57),(60.21,5.54),(60.58,5.51),(60.96,5.47),(61.34,5.43),(61.72,5.41),(62.09,5.40),(62.47,5.36),(62.85,5.28),
(63.23,5.21),(63.60,5.13),(63.98,5.09),(64.36,5.10),(64.74,5.13),(65.11,5.16),(65.49,5.18),(65.87,5.19),(66.25,5.20),(66.62,5.16),
(67.00,5.11),(67.38,5.09),(67.75,5.06),(68.13,5.04),(68.51,5.00),(68.89,4.96),(69.26,4.92),(69.64,4.89),(70.02,4.84),(70.40,4.80),
(70.77,4.78),(71.15,4.77),(71.53,4.74),(71.91,4.73),(72.28,4.71),(72.66,4.70),(73.04,4.66),(73.42,4.65),(73.79,4.64),(74.17,4.64),
(74.55,4.65),(74.92,4.66),(75.30,4.67),(75.68,4.69),(76.06,4.66),(76.43,4.61),(76.81,4.56),(77.19,4.50),(77.57,4.46),(77.94,4.44),
(78.32,4.44),(78.70,4.44),(79.08,4.45),(79.45,4.46),(79.83,4.49),(80.21,4.54),(80.58,4.59),(80.96,4.64),(81.34,4.69),(81.72,4.74),
(82.22,4.79),(82.57,4.82),(82.92,4.86),(83.28,4.91),(83.63,4.92),(83.98,4.92),(84.33,4.96),(84.69,4.98),(85.04,5.03),(85.39,5.06),
(85.74,5.09),(86.10,5.11),(86.45,5.13),(86.80,5.10),(87.15,5.09),(87.51,5.08),(87.86,5.06),(88.21,5.05),(88.56,5.04),(88.92,5.03),
(89.27,5.00),(89.62,4.94),(89.97,4.88),(90.33,4.84),(90.68,4.83),(91.03,4.82),(91.38,4.87),(91.74,4.97),(92.09,5.05),(92.44,5.10),
(92.79,5.16),(93.15,5.24),(93.50,5.32),(93.85,5.41),(94.20,5.51),(94.55,5.61),(94.91,5.70),(95.26,5.75),(95.61,5.79),(95.96,5.82),
(96.32,5.84),(96.67,5.88),(97.02,5.93),(97.37,6.01),(97.73,6.12),(98.08,6.19),(98.43,6.19),(98.79,6.18),(99.14,6.16),(99.49,6.15),
(99.84,6.16),(100.00,6.14),
]

PEG_PRICE = 1.0
X_TICKS = [0, 20, 40, 60, 80, 100]
PRICE_TICKS = [0.996, 0.997, 0.998, 0.999, 1.000, 1.001, 1.002]
RATE_TICKS = [4, 5, 6, 7, 8, 9, 10, 11]
SERIES = [
    ("Exponential 1 (rate0=0.050, σ=0.005)", RATE_EXP1, "#1f77b4"),
    ("Exponential 2 (rate0=0.050, σ=0.010)", RATE_EXP2, "#ff7f0e"),
    ("Exponential 3 (rate0=0.050, σ=0.020)", RATE_EXP3, "#2ca02c"),
    ("EMA Exponential 1 (rate0=0.050, σ=0.010)", RATE_EMA, "#d62728"),
]

# ---------------- figure ----------------
W, H = 3530, 2968
FONT = "DejaVu Sans"
FS = 41.7
LW = 6.25
GAP = "\u00a0\u00a0"  # space between legend handle and label

fig = go.Figure()

fig.add_trace(go.Scatter(
    x=[p[0] for p in PRICE], y=[p[1] for p in PRICE], mode="lines",
    name=GAP + "Stablecoin Price", line=dict(color="#1f77b4", width=LW),
    xaxis="x", yaxis="y", legend="legend"))

for name, data, color in SERIES:
    fig.add_trace(go.Scatter(
        x=[p[0] for p in data], y=[p[1] for p in data], mode="lines",
        name=GAP + name, line=dict(color=color, width=LW),
        xaxis="x2", yaxis="y2", legend="legend2"))

fig.add_shape(type="line", xref="x domain", yref="y", x0=0, x1=1,
              y0=PEG_PRICE, y1=PEG_PRICE,
              line=dict(color="rgba(255,0,0,0.3)", width=LW, dash="23px,10px"),
              layer="above")

def px_x(v):
    return v / W

def px_y(v):
    return 1 - v / H

axis_common = dict(
    showgrid=True, gridcolor="#e7e7e7", gridwidth=3.3,
    showline=True, linecolor="black", linewidth=3.3, mirror=True,
    ticks="outside", ticklen=14.6, tickwidth=3.3, tickcolor="black",
    tickfont=dict(family=FONT, size=FS, color="black"),
    zeroline=False, automargin=False,
)

xdom = [px_x(236), px_x(2317)]
legend_common = dict(xanchor="left", yanchor="top",
                     bgcolor="rgba(255,255,255,0.8)", bordercolor="#d0d0d0", borderwidth=3,
                     font=dict(family=FONT, size=FS, color="black"), itemwidth=90)
fig.update_layout(
    width=W, height=H, margin=dict(l=0, r=0, t=0, b=0, pad=0, autoexpand=False),
    paper_bgcolor="white", plot_bgcolor="white",
    font=dict(family=FONT, size=FS, color="black"),
    xaxis=dict(domain=xdom, anchor="y", range=[-5, 105], tickvals=X_TICKS,
               ticklabelstandoff=8, **axis_common),
    yaxis=dict(domain=[px_y(1363), px_y(92)], anchor="x", range=[0.99593, 1.002122],
               tickvals=PRICE_TICKS, tickformat=".3f", **axis_common),
    xaxis2=dict(domain=xdom, anchor="y2", range=[-5, 105], tickvals=X_TICKS,
                ticklabelstandoff=6, **axis_common),
    yaxis2=dict(domain=[px_y(2812), px_y(1542)], anchor="x2", range=[3.11, 11.04],
                tickvals=RATE_TICKS, **axis_common),
    legend=dict(x=px_x(255), y=px_y(113), **legend_common),
    legend2=dict(x=px_x(2444), y=px_y(1560), **legend_common),
    showlegend=True,
)

annots = [
    dict(text="Stablecoin Price Over Time", x=px_x(1276.5), y=px_y(50), size=50),
    dict(text="Interest Rate Over Time", x=px_x(1276.5), y=px_y(1499), size=50),
    dict(text="Time (days)", x=px_x(1276.5), y=px_y(2915), size=FS),
    dict(text="Price (USD)", x=px_x(45), y=px_y(727.5), size=FS, angle=-90),
    dict(text="Interest Rate (%)", x=px_x(117), y=px_y(2177), size=FS, angle=-90),
]
for a in annots:
    fig.add_annotation(text=a["text"], x=a["x"], y=a["y"], xref="paper", yref="paper",
                       showarrow=False, xanchor="center", yanchor="middle",
                       textangle=a.get("angle", 0),
                       font=dict(family=FONT, size=a["size"], color="black"))
fig.add_annotation(text="Random Seed: 57", x=px_x(56), y=px_y(2914), xref="paper", yref="paper",
                   showarrow=False, xanchor="left", yanchor="middle",
                   font=dict(family=FONT, size=33.3, color="#555555"))

fig.write_html("out.html")
